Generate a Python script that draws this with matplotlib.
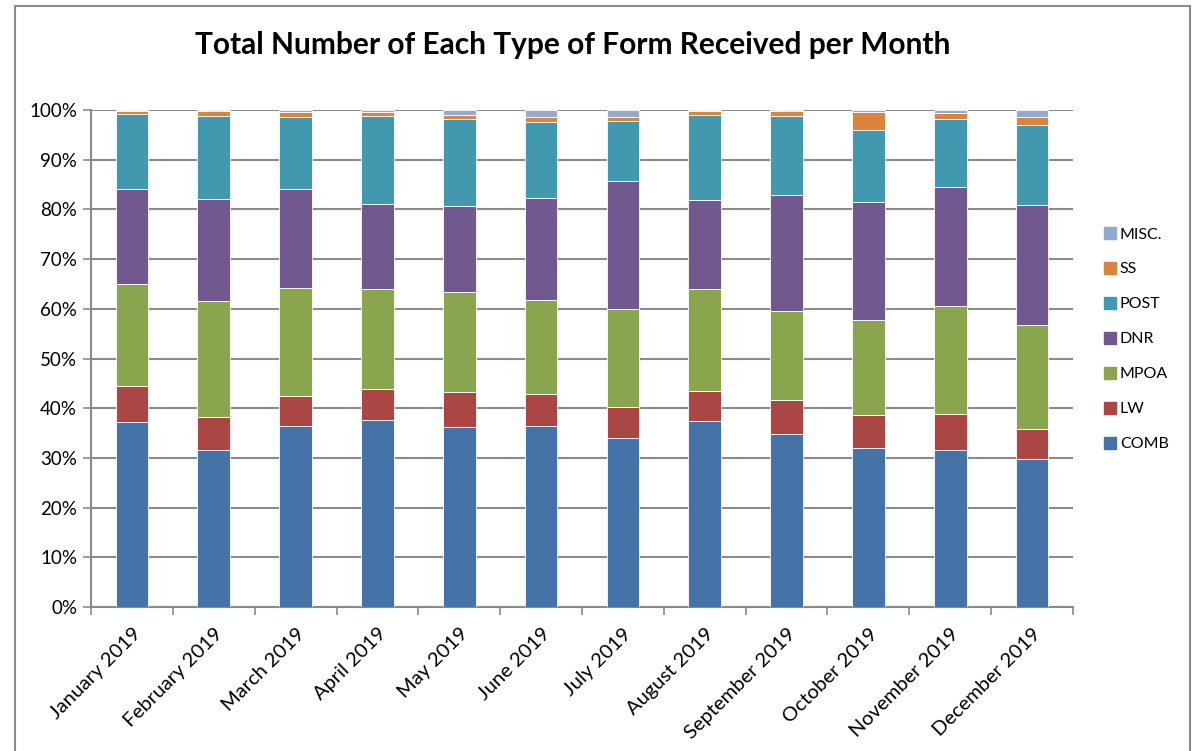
import numpy as np
import matplotlib
matplotlib.use("Agg")
import matplotlib.pyplot as plt
from matplotlib.lines import Line2D
from matplotlib.ticker import PercentFormatter

months = ["January 2019", "February 2019", "March 2019", "April 2019", "May 2019",
          "June 2019", "July 2019", "August 2019", "September 2019", "October 2019",
          "November 2019", "December 2019"]

# share of each form type per month (percent)
comb = [37.2, 31.6, 36.5, 37.7, 36.2, 36.5, 34.1, 37.4, 34.8, 32.0, 31.6, 29.8]
lw   = [7.3, 6.6, 6.0, 6.2, 7.1, 6.4, 6.1, 6.1, 6.8, 6.6, 7.2, 6.0]
mpoa = [20.4, 23.4, 21.7, 20.1, 20.1, 18.9, 19.7, 20.5, 18.0, 19.1, 21.8, 20.9]
dnr  = [19.2, 20.5, 19.9, 17.1, 17.2, 20.5, 25.8, 17.8, 23.3, 23.8, 23.9, 24.2]
post = [15.0, 16.7, 14.4, 17.7, 17.6, 15.3, 12.1, 17.2, 15.9, 14.5, 13.7, 16.0]
ss   = [0.7, 0.9, 1.0, 0.7, 0.7, 1.0, 0.8, 0.8, 0.9, 3.5, 1.1, 1.6]
misc = [0.2, 0.3, 0.5, 0.5, 1.1, 1.4, 1.4, 0.2, 0.3, 0.5, 0.7, 1.5]

series = [("COMB", comb, "#4572A7"), ("LW", lw, "#AA4643"), ("MPOA", mpoa, "#89A54E"),
          ("DNR", dnr, "#71588F"), ("POST", post, "#4198AF"), ("SS", ss, "#DB843D"),
          ("MISC.", misc, "#93A9CF")]

plt.rcParams['font.family'] = ['Lato', 'DejaVu Sans']

W, H = 1194, 751
fig = plt.figure(figsize=(W / 100, H / 100), dpi=100)
ax = fig.add_axes([91 / W, (H - 607) / H, (1073 - 91) / W, (607 - 110) / H])

x = np.arange(len(months))
bottom = np.zeros(len(months))
handles = []
for name, vals, col in series:
    ax.bar(x, vals, width=0.4, bottom=bottom, color=col, edgecolor="#ffffff",
           linewidth=0.6, zorder=3)
    bottom += np.array(vals)
    handles.append(Line2D([], [], marker="s", linestyle="none", markersize=8,
                          markerfacecolor=col, markeredgecolor=col, label=name))

ax.set_xlim(-0.5, len(months) - 0.5)
ax.set_ylim(0, 100)
ax.set_yticks(np.arange(0, 101, 10))
ax.yaxis.set_major_formatter(PercentFormatter(decimals=0))
ax.grid(axis="y", color="#8a8a8a", linewidth=1.5, zorder=0)

ax.set_xticks(x)
ax.set_xticklabels(months, rotation=45, ha="right", rotation_mode="anchor", fontsize=14.5)
ax.set_xticks(np.arange(-0.5, len(months)), minor=True)
ax.tick_params(axis="x", which="major", length=0, pad=13)
ax.tick_params(axis="x", which="minor", length=6, color="#8a8a8a", width=1.2)
ax.tick_params(axis="y", length=6, color="#8a8a8a", width=1.2, labelsize=13.5, pad=4)

for s in ["top", "right"]:
    ax.spines[s].set_visible(False)
for s in ["left", "bottom"]:
    ax.spines[s].set_color("#8a8a8a")
    ax.spines[s].set_linewidth(1.5)

leg = fig.legend(handles=handles[::-1], loc="upper left", bbox_to_anchor=(1088 / W, 1 - 213 / H),
                 frameon=False, fontsize=11.5, handletextpad=0.1, labelspacing=1.3,
                 handlelength=1.0)

fig.text(573 / W, 1 - 45 / H, "Total Number of Each Type of Form Received per Month",
         ha="center", va="center", fontsize=21.5, fontweight="bold")

# outer chart border
for xs, ys in [((15, 15), (6, H)), ((15, 1190), (6, 6)), ((1190, 1190), (6, H))]:
    fig.add_artist(Line2D([v / W for v in xs], [1 - v / H for v in ys], color="#8a8a8a",
                          linewidth=1.5, transform=fig.transFigure))

fig.savefig("out.png", dpi=100)
